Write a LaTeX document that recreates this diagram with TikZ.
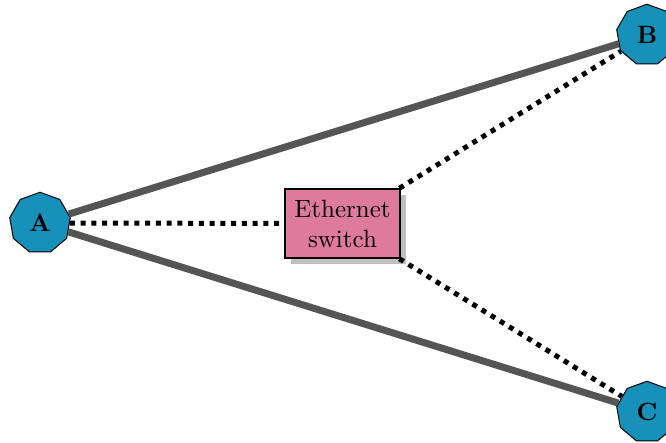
\documentclass[tikz,border=0pt]{standalone}
\usetikzlibrary{shapes.geometric,shadows}
\definecolor{hostblue}{HTML}{1790BA}
\definecolor{switchpink}{HTML}{DE7B9C}
\definecolor{linkgray}{HTML}{555555}
\begin{document}
\begin{tikzpicture}[x=0.4pt,y=-0.4pt,
  host/.style={regular polygon, regular polygon sides=9, draw=black, line width=0.4pt,
    fill=hostblue, minimum size=24.6pt, inner sep=0pt, font=\bfseries},
  switchbox/.style={rectangle, draw=black, line width=0.6pt, fill=switchpink,
    minimum width=46pt, minimum height=27.6pt, inner sep=1pt, align=center,
    drop shadow={shadow xshift=2.4pt, shadow yshift=-2.4pt, fill=black!25, opacity=1}},
  wire/.style={linkgray, line width=2.8pt},
  lan/.style={black, line width=2pt, dash pattern=on 2pt off 2.3pt}]
  \useasboundingbox (0,0) rectangle (666,442);
  \node[host] (A) at (40,223) {A};
  \node[host] (B) at (647,35) {B};
  \node[host] (C) at (647,412) {C};
  \node[switchbox] (S) at (342.5,223.5) {Ethernet\\switch};
  \draw[wire] (A) -- (B);
  \draw[wire] (A) -- (C);
  \draw[lan] (A) -- (S);
  \draw[lan] (S) -- (B);
  \draw[lan] (S) -- (C);
\end{tikzpicture}
\end{document}
